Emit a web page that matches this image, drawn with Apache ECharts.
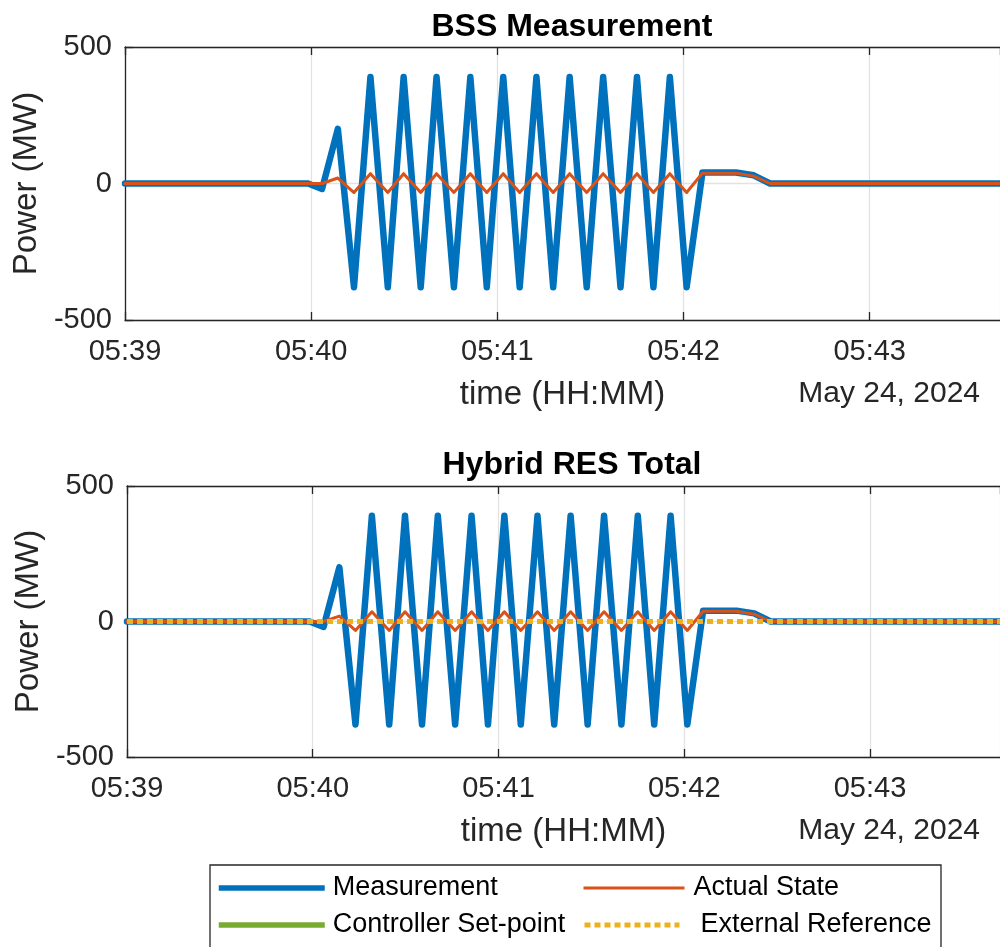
<!DOCTYPE html>
<html lang="en">
<head>
  <meta charset="UTF-8">
  <title>BSS / Hybrid RES</title>
  <style>
    html, body { margin: 0; padding: 0; background: #fff; }
    #chart { width: 1000px; height: 947px; }
  </style>
  <script src="https://cdn.jsdelivr.net/npm/echarts@6/dist/echarts.min.js"></script>
</head>
<body>
  <div id="chart"></div>
<script>
  // time in seconds after 05:39:00 (May 24, 2024)
  var timeSec = [0, 59, 63.5, 68.6, 73.8, 79.1, 84.7, 89.8, 95.3, 100.4, 106.0, 111.3, 116.6, 121.9,
                 127.2, 132.6, 138.0, 143.3, 148.8, 154.1, 159.7, 165.0, 170.3, 175.6, 181.0,
                 186.1, 196.9, 202.6, 207.9, 282];
  // power in MW
  var measurement = [0, 0, -20, 200, -380, 390, -380, 390, -380, 390, -380, 390, -380, 390,
                     -380, 390, -380, 390, -380, 390, -380, 390, -380, 390, -380,
                     40, 40, 30, 0, 0];
  var actualState = [0, 0, 0, 20, -33, 36, -33, 36, -33, 36, -33, 36, -33, 36,
                     -33, 36, -33, 36, -33, 36, -33, 36, -33, 36, -33,
                     38, 38, 27, 0, 0];
  // controller set-point has no samples in this window
  var setpointTime = [];
  var setpoint = [];
  var refTime = [0, 282];
  var externalRef = [0, 0];

  var yTicks = [-500, 0, 500];
  var titles = ['BSS Measurement', 'Hybrid RES Total'];
  var dateText = 'May 24, 2024';

  var FONT = '"Liberation Sans", Arial, Helvetica, sans-serif';
  var AX = '#262626';
  var BLUE = '#0072BD', ORANGE = '#D95319', GREEN = '#77AC30', YELLOW = '#EDB120';

  function zip(xs, ys) { return xs.map(function (x, i) { return [x, ys[i]]; }); }

  function fmtTime(v) {
    if (v % 60 !== 0) return '';
    var m = 39 + v / 60;
    return '05:' + (m < 10 ? '0' : '') + m;
  }

  var grids = [
    { left: 125, right: -12, top: 47, height: 273 },
    { left: 127, right: -12, top: 486, height: 271 }
  ];

  var xAxes = [], yAxes = [];
  grids.forEach(function (g, i) {
    xAxes.push({
      type: 'value', gridIndex: i, min: 0, max: 282, interval: 60,
      name: 'time (HH:MM)', nameLocation: 'middle', nameGap: 58,
      nameTextStyle: { fontFamily: FONT, fontSize: 33, color: AX },
      axisLine: { onZero: false, lineStyle: { color: AX, width: 1.3 } },
      axisTick: { inside: true, length: 8, lineStyle: { color: AX, width: 1.3 } },
      axisLabel: { formatter: fmtTime, margin: 17, fontFamily: FONT, fontSize: 29, color: AX, showMaxLabel: false },
      splitLine: { show: true, lineStyle: { color: '#e2e2e2', width: 1.3 } }
    });
    // top frame line with inward ticks
    xAxes.push({
      type: 'value', gridIndex: i, position: 'top', min: 0, max: 282, interval: 60,
      axisLine: { onZero: false, lineStyle: { color: AX, width: 1.3 } },
      axisTick: { inside: true, length: 8, lineStyle: { color: AX, width: 1.3 } },
      axisLabel: { show: false },
      splitLine: { show: false }
    });
    yAxes.push({
      type: 'value', gridIndex: i, min: yTicks[0], max: yTicks[2], interval: 500,
      name: 'Power (MW)', nameLocation: 'middle', nameGap: 78, nameRotate: 90,
      nameTextStyle: { fontFamily: FONT, fontSize: 33, color: AX },
      axisLine: { show: true, onZero: false, lineStyle: { color: AX, width: 1.3 } },
      axisTick: { inside: true, length: 8, lineStyle: { color: AX, width: 1.3 } },
      axisLabel: { margin: 13, fontFamily: FONT, fontSize: 29, color: AX },
      splitLine: { show: true, lineStyle: { color: '#e2e2e2', width: 1.3 } }
    });
  });

  function lineSeries(name, gi, data, color, width, dash) {
    return {
      name: name, type: 'line', xAxisIndex: gi * 2, yAxisIndex: gi,
      data: data, symbol: 'none', animation: false, silent: true,
      lineStyle: { color: color, width: width, type: dash || 'solid', join: 'round', cap: dash ? 'butt' : 'round' },
      itemStyle: { color: color }
    };
  }

  var series = [
    lineSeries('Measurement', 0, zip(timeSec, measurement), BLUE, 6.5),
    lineSeries('Actual State', 0, zip(timeSec, actualState), ORANGE, 3),
    lineSeries('Measurement', 1, zip(timeSec, measurement), BLUE, 6.5),
    lineSeries('Actual State', 1, zip(timeSec, actualState), ORANGE, 3),
    lineSeries('Controller Set-point', 1, zip(setpointTime, setpoint), GREEN, 6),
    lineSeries('External Reference', 1, zip(refTime, externalRef), YELLOW, 5, [6, 4])
  ];

  function legendItem(name, left, top, w, padLeft, color, width, dash) {
    return {
      data: [name], left: left, top: top, orient: 'vertical', padding: 0,
      itemWidth: w, itemHeight: 14, selectedMode: false,
      itemStyle: { opacity: 0 },
      lineStyle: { color: color, width: width, type: dash || 'solid', cap: 'butt' },
      textStyle: { fontFamily: FONT, fontSize: 27, color: '#000', lineHeight: 30, padding: [0, 0, 0, padLeft] }
    };
  }

  var chart = echarts.init(document.getElementById('chart'));
  chart.setOption({
    animation: false,
    title: [
      { text: titles[0], left: 567, top: 6, textAlign: 'center',
        textStyle: { fontFamily: FONT, fontSize: 32, fontWeight: 'bold', color: '#000' } },
      { text: titles[1], left: 567, top: 444, textAlign: 'center',
        textStyle: { fontFamily: FONT, fontSize: 32, fontWeight: 'bold', color: '#000' } }
    ],
    grid: grids,
    xAxis: xAxes,
    yAxis: yAxes,
    series: series,
    legend: [
      legendItem('Measurement', 216, 873, 106, 3, BLUE, 5.5),
      legendItem('Actual State', 582, 873, 101, 4, ORANGE, 3),
      legendItem('Controller Set-point', 216, 910, 106, 3, GREEN, 5.5),
      legendItem('External Reference', 582, 910, 95, 16, YELLOW, 5, [6, 4])
    ],
    graphic: [
      { type: 'rect', shape: { x: 210, y: 865, width: 731, height: 100 },
        style: { fill: '#fff', stroke: AX, lineWidth: 1.3 }, z: -1 },
      { type: 'text', right: 20, top: 379,
        style: { text: dateText, font: '30px ' + FONT, fill: AX } },
      { type: 'text', right: 20, top: 816,
        style: { text: dateText, font: '30px ' + FONT, fill: AX } }
    ]
  });
</script>
</body>
</html>
